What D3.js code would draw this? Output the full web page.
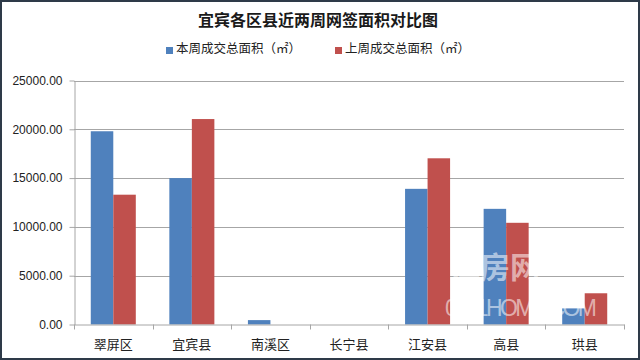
<!DOCTYPE html>
<html>
<head>
<meta charset="utf-8">
<script src="https://cdnjs.cloudflare.com/ajax/libs/d3/7.8.5/d3.min.js"></script>
<style>
  body { margin: 0; background: #fff; }
  svg { display: block; }
</style>
</head>
<body>
<div id="chart"></div>
<script>
// data
const districts = ["翠屏区", "宜宾县", "南溪区", "长宁县", "江安县", "高县", "珙县"];
const thisWeek = [19800, 15000, 450, 0, 13900, 11850, 1650];
const lastWeek = [13300, 21050, 0, 0, 17030, 10420, 3200];
const seriesNames = ["本周成交总面积（㎡）", "上周成交总面积（㎡）"];
const yTicks = [0, 5000, 10000, 15000, 20000, 25000];

const W = 640, H = 360;
const colors = ["#4F81BD", "#C0504D"];
const plotL = 74, plotR = 624, plotT = 80.5, plotB = 324.5;

const svg = d3.select("#chart").append("svg")
  .attr("width", W).attr("height", H);

svg.append("rect").attr("x", 1).attr("y", 1)
  .attr("width", W - 2).attr("height", H - 2)
  .attr("fill", "#fff").attr("stroke", "#2e3a48").attr("stroke-width", 2);

// title
svg.append("text")
  .attr("x", 318).attr("y", 26)
  .attr("text-anchor", "middle")
  .attr("font-family", "Noto Sans CJK SC")
  .attr("font-weight", "bold")
  .attr("font-size", 16)
  .attr("fill", "#1a1a1a")
  .text("宜宾各区县近两周网签面积对比图");

// legend
const legX = [166, 335];
seriesNames.forEach(function(name, i) {
  svg.append("rect")
    .attr("x", legX[i]).attr("y", 47)
    .attr("width", 7).attr("height", 7)
    .attr("fill", colors[i]);
  svg.append("text")
    .attr("x", legX[i] + 10).attr("y", 53)
    .attr("font-family", "Noto Sans CJK SC")
    .attr("font-size", 12.5)
    .attr("fill", "#222")
    .text(name);
});

const y = d3.scaleLinear().domain([0, 25000]).range([plotB, plotT]);
const x0 = d3.scaleBand().domain(districts).range([plotL, plotR])
  .paddingInner(0.427).paddingOuter(0.2135);
const x1 = d3.scaleBand().domain([0, 1]).range([0, x0.bandwidth()]);

// gridlines
svg.append("g").selectAll("line")
  .data(yTicks.filter(d => d > 0)).enter()
  .append("line")
  .attr("x1", plotL).attr("x2", plotR)
  .attr("y1", d => Math.round(y(d)) + 0.5).attr("y2", d => Math.round(y(d)) + 0.5)
  .attr("stroke", "#a6a6a6").attr("stroke-width", 1);

// y axis
const yAxis = svg.append("g")
  .attr("transform", "translate(" + (plotL + 0.5) + ",0)")
  .call(d3.axisLeft(y).tickValues(yTicks).tickFormat(d3.format(".2f"))
    .tickSize(5).tickSizeOuter(0));
yAxis.select(".domain").attr("stroke", "#a6a6a6");
yAxis.selectAll(".tick line").attr("stroke", "#a6a6a6");
yAxis.selectAll(".tick text")
  .attr("x", -12)
  .attr("font-family", "Liberation Sans")
  .attr("font-size", 12)
  .attr("fill", "#222");

// bars
const groups = svg.append("g").selectAll("g")
  .data(districts).enter()
  .append("g")
  .attr("transform", d => "translate(" + x0(d) + ",0)");

groups.selectAll("rect")
  .data((d, i) => [thisWeek[i], lastWeek[i]]).enter()
  .append("rect")
  .attr("x", (d, j) => x1(j))
  .attr("y", d => y(d))
  .attr("width", x1.bandwidth())
  .attr("height", d => y(0) - y(d))
  .attr("fill", (d, j) => colors[j]);

// x axis
const xAxis = svg.append("g")
  .attr("transform", "translate(0," + plotB + ")")
  .call(d3.axisBottom(x0).tickSize(0).tickSizeOuter(0));
xAxis.select(".domain").attr("stroke", "#a6a6a6");
xAxis.selectAll(".tick text")
  .attr("y", 18)
  .attr("dy", "0.5em")
  .attr("font-family", "Noto Sans CJK SC")
  .attr("font-size", 13)
  .attr("fill", "#222");

// category boundary ticks
const step = x0.step();
svg.append("g").selectAll("line")
  .data(d3.range(districts.length + 1)).enter()
  .append("line")
  .attr("x1", i => Math.round(plotL + i * step) + 0.5)
  .attr("x2", i => Math.round(plotL + i * step) + 0.5)
  .attr("y1", plotB).attr("y2", plotB + 5)
  .attr("stroke", "#a6a6a6");

// watermark
svg.append("text")
  .attr("x", 450).attr("y", 278)
  .attr("font-family", "Noto Sans CJK SC")
  .attr("font-weight", "bold")
  .attr("font-size", 30)
  .attr("fill", "#fff").attr("fill-opacity", 0.55)
  .text("江房网");
svg.append("text")
  .attr("x", 445).attr("y", 316)
  .attr("font-family", "Liberation Sans")
  .attr("font-size", 23)
  .attr("textLength", 152)
  .attr("fill", "#fff").attr("fill-opacity", 0.55)
  .text("0831HOME.COM");
</script>
</body>
</html>
